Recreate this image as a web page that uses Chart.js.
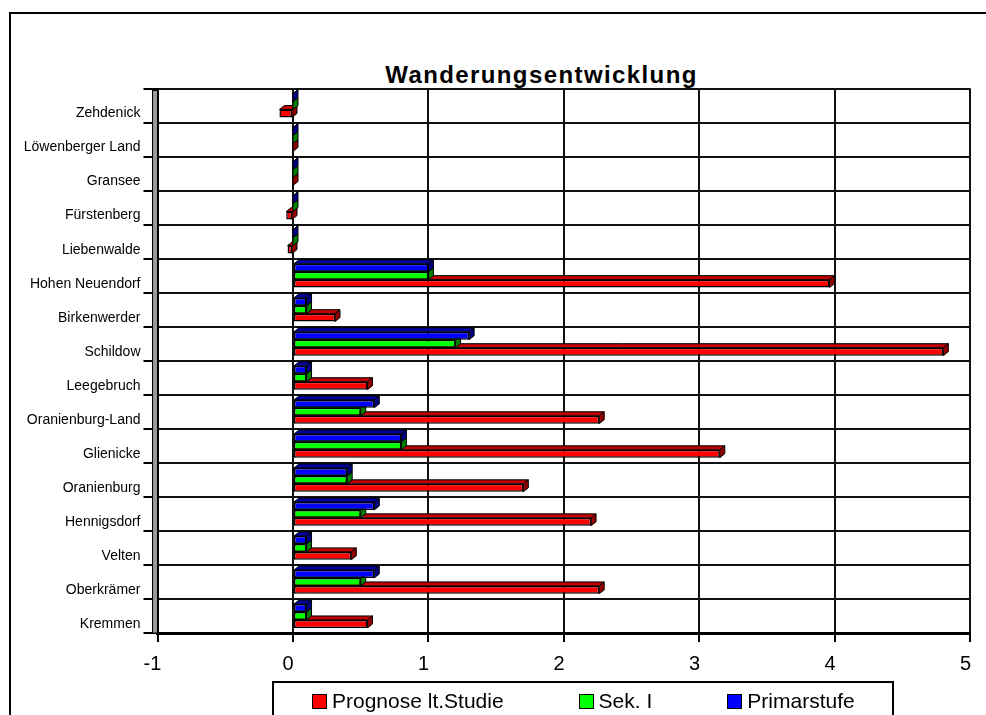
<!DOCTYPE html>
<html>
<head>
<meta charset="utf-8">
<script src="https://cdn.jsdelivr.net/npm/chart.js@4.4.1/dist/chart.umd.min.js"></script>
<style>
    body { margin: 0; width: 986px; height: 715px; overflow: hidden; background: #fff; position: relative; font-family: "Liberation Sans", Arial, sans-serif; }
    #frame { position: absolute; left: 9px; top: 12px; width: 1000px; height: 720px; border: 2px solid #000; }
    #title { position: absolute; left: 0; top: 63px; width: 1083px; text-align: center; font-weight: bold; font-size: 24px; line-height: 24px; letter-spacing: 1.4px; }
    #chart { position: absolute; left: 0; top: 0; }
    #legend { position: absolute; left: 272px; top: 681px; width: 580px; height: 60px; border: 2px solid #000; padding-left: 38px; display: flex; gap: 75px; align-items: flex-start; padding-top: 6px; box-sizing: content-box; }
    .item { display: flex; align-items: center; font-size: 21px; line-height: 24px; white-space: nowrap; }
    .box { width: 13px; height: 13px; border: 1.5px solid #000; margin-right: 5px; }
</style>
</head>
<body>
<div id="frame"></div>
<div id="title">Wanderungsentwicklung</div>
<canvas id="chart" width="986" height="715"></canvas>
<div id="legend"></div>
<script>
const categories = ['Zehdenick', 'Löwenberger Land', 'Gransee', 'Fürstenberg', 'Liebenwalde',
    'Hohen Neuendorf', 'Birkenwerder', 'Schildow', 'Leegebruch', 'Oranienburg-Land',
    'Glienicke', 'Oranienburg', 'Hennigsdorf', 'Velten', 'Oberkrämer', 'Kremmen'];

const primarstufe = [0, 0, 0, 0, 0, 1.0, 0.1, 1.3, 0.1, 0.6, 0.8, 0.4, 0.6, 0.1, 0.6, 0.1];
const sekI = [0, 0, 0, 0, 0, 1.0, 0.1, 1.2, 0.1, 0.5, 0.8, 0.4, 0.5, 0.1, 0.5, 0.1];
const prognose = [-0.1, 0, 0, -0.05, -0.04, 3.96, 0.31, 4.8, 0.55, 2.26, 3.15, 1.7, 2.2, 0.43, 2.26, 0.55];

const xTicks = [-1, 0, 1, 2, 3, 4, 5];

const DX = 5, DY = 4;

// 3d faces on top and at the end of every bar
const depthPlugin = {
    id: 'depth',
    afterDatasetDraw(chart, args) {
        const ds = chart.data.datasets[args.index];
        const ctx = chart.ctx;
        ctx.save();
        ctx.lineWidth = 1;
        ctx.strokeStyle = '#000';
        args.meta.data.forEach(bar => {
            const p = bar.getProps(['x', 'y', 'base', 'height'], true);
            const left = Math.min(p.x, p.base);
            const right = Math.max(p.x, p.base);
            const top = p.y - p.height / 2;
            const bottom = p.y + p.height / 2;

            ctx.fillStyle = ds.topColor;
            ctx.beginPath();
            ctx.moveTo(left, top);
            ctx.lineTo(left + DX, top - DY);
            ctx.lineTo(right + DX, top - DY);
            ctx.lineTo(right, top);
            ctx.closePath();
            ctx.fill();
            ctx.stroke();

            ctx.fillStyle = ds.sideColor;
            ctx.beginPath();
            ctx.moveTo(right, top);
            ctx.lineTo(right + DX, top - DY);
            ctx.lineTo(right + DX, bottom - DY);
            ctx.lineTo(right, bottom);
            ctx.closePath();
            ctx.fill();
            ctx.stroke();
        });
        ctx.restore();
    }
};

// grey side wall left of the plot
const wallPlugin = {
    id: 'wall',
    beforeDatasetsDraw(chart) {
        const {ctx, chartArea} = chart;
        ctx.save();
        ctx.fillStyle = '#999';
        ctx.strokeStyle = '#000';
        ctx.lineWidth = 1;
        ctx.fillRect(chartArea.left - 5, chartArea.top + 2, 5, chartArea.bottom - chartArea.top - 2);
        ctx.strokeRect(chartArea.left - 5, chartArea.top + 2, 5, chartArea.bottom - chartArea.top - 2);
        ctx.restore();
    }
};

const ctx = document.getElementById('chart').getContext('2d');

new Chart(ctx, {
    type: 'bar',
    data: {
        labels: categories,
        datasets: [
            { label: 'Primarstufe', data: primarstufe, backgroundColor: '#0000ff', topColor: '#0000a0', sideColor: '#000080' },
            { label: 'Sek. I', data: sekI, backgroundColor: '#00ff00', topColor: '#00a000', sideColor: '#008000' },
            { label: 'Prognose lt.Studie', data: prognose, backgroundColor: '#ff0000', topColor: '#c00000', sideColor: '#900000' }
        ]
    },
    options: {
        indexAxis: 'y',
        responsive: false,
        animation: false,
        devicePixelRatio: 1,
        datasets: {
            bar: {
                categoryPercentage: 0.7,
                barPercentage: 1.0,
                borderColor: '#000',
                borderWidth: 1.5,
                borderSkipped: false
            }
        },
        layout: {
            padding: { top: 88.5, right: 15.5, bottom: 32, left: 0 }
        },
        scales: {
            x: {
                type: 'linear',
                min: -1,
                max: 5,
                afterBuildTicks: scale => {
                    scale.ticks = xTicks.map(v => ({ value: v }));
                },
                afterFit: scale => { scale.height = 50; },
                grid: { color: '#111', lineWidth: 2, tickLength: 9, tickColor: '#000' },
                border: { color: '#000', width: 3 },
                ticks: {
                    color: '#000',
                    padding: 10,
                    labelOffset: -5,
                    font: { family: '"Liberation Sans", Arial', size: 20 }
                }
            },
            y: {
                afterFit: scale => { scale.width = 157.5; },
                grid: { color: '#111', lineWidth: 2, tickLength: 14, tickColor: '#000' },
                border: { color: '#000', width: 2 },
                ticks: {
                    color: '#000',
                    padding: 3,
                    labelOffset: 8,
                    font: { family: '"Liberation Sans", Arial', size: 14 }
                }
            }
        },
        plugins: {
            legend: { display: false },
            title: { display: false },
            tooltip: { enabled: false }
        }
    },
    plugins: [wallPlugin, depthPlugin]
});

// legend in the order of the original
const legendEl = document.getElementById('legend');
[['Prognose lt.Studie', '#ff0000'], ['Sek. I', '#00ff00'], ['Primarstufe', '#0000ff']].forEach(([text, color]) => {
    const item = document.createElement('div');
    item.className = 'item';
    const box = document.createElement('span');
    box.className = 'box';
    box.style.background = color;
    item.appendChild(box);
    item.appendChild(document.createTextNode(text));
    legendEl.appendChild(item);
});
</script>
</body>
</html>
